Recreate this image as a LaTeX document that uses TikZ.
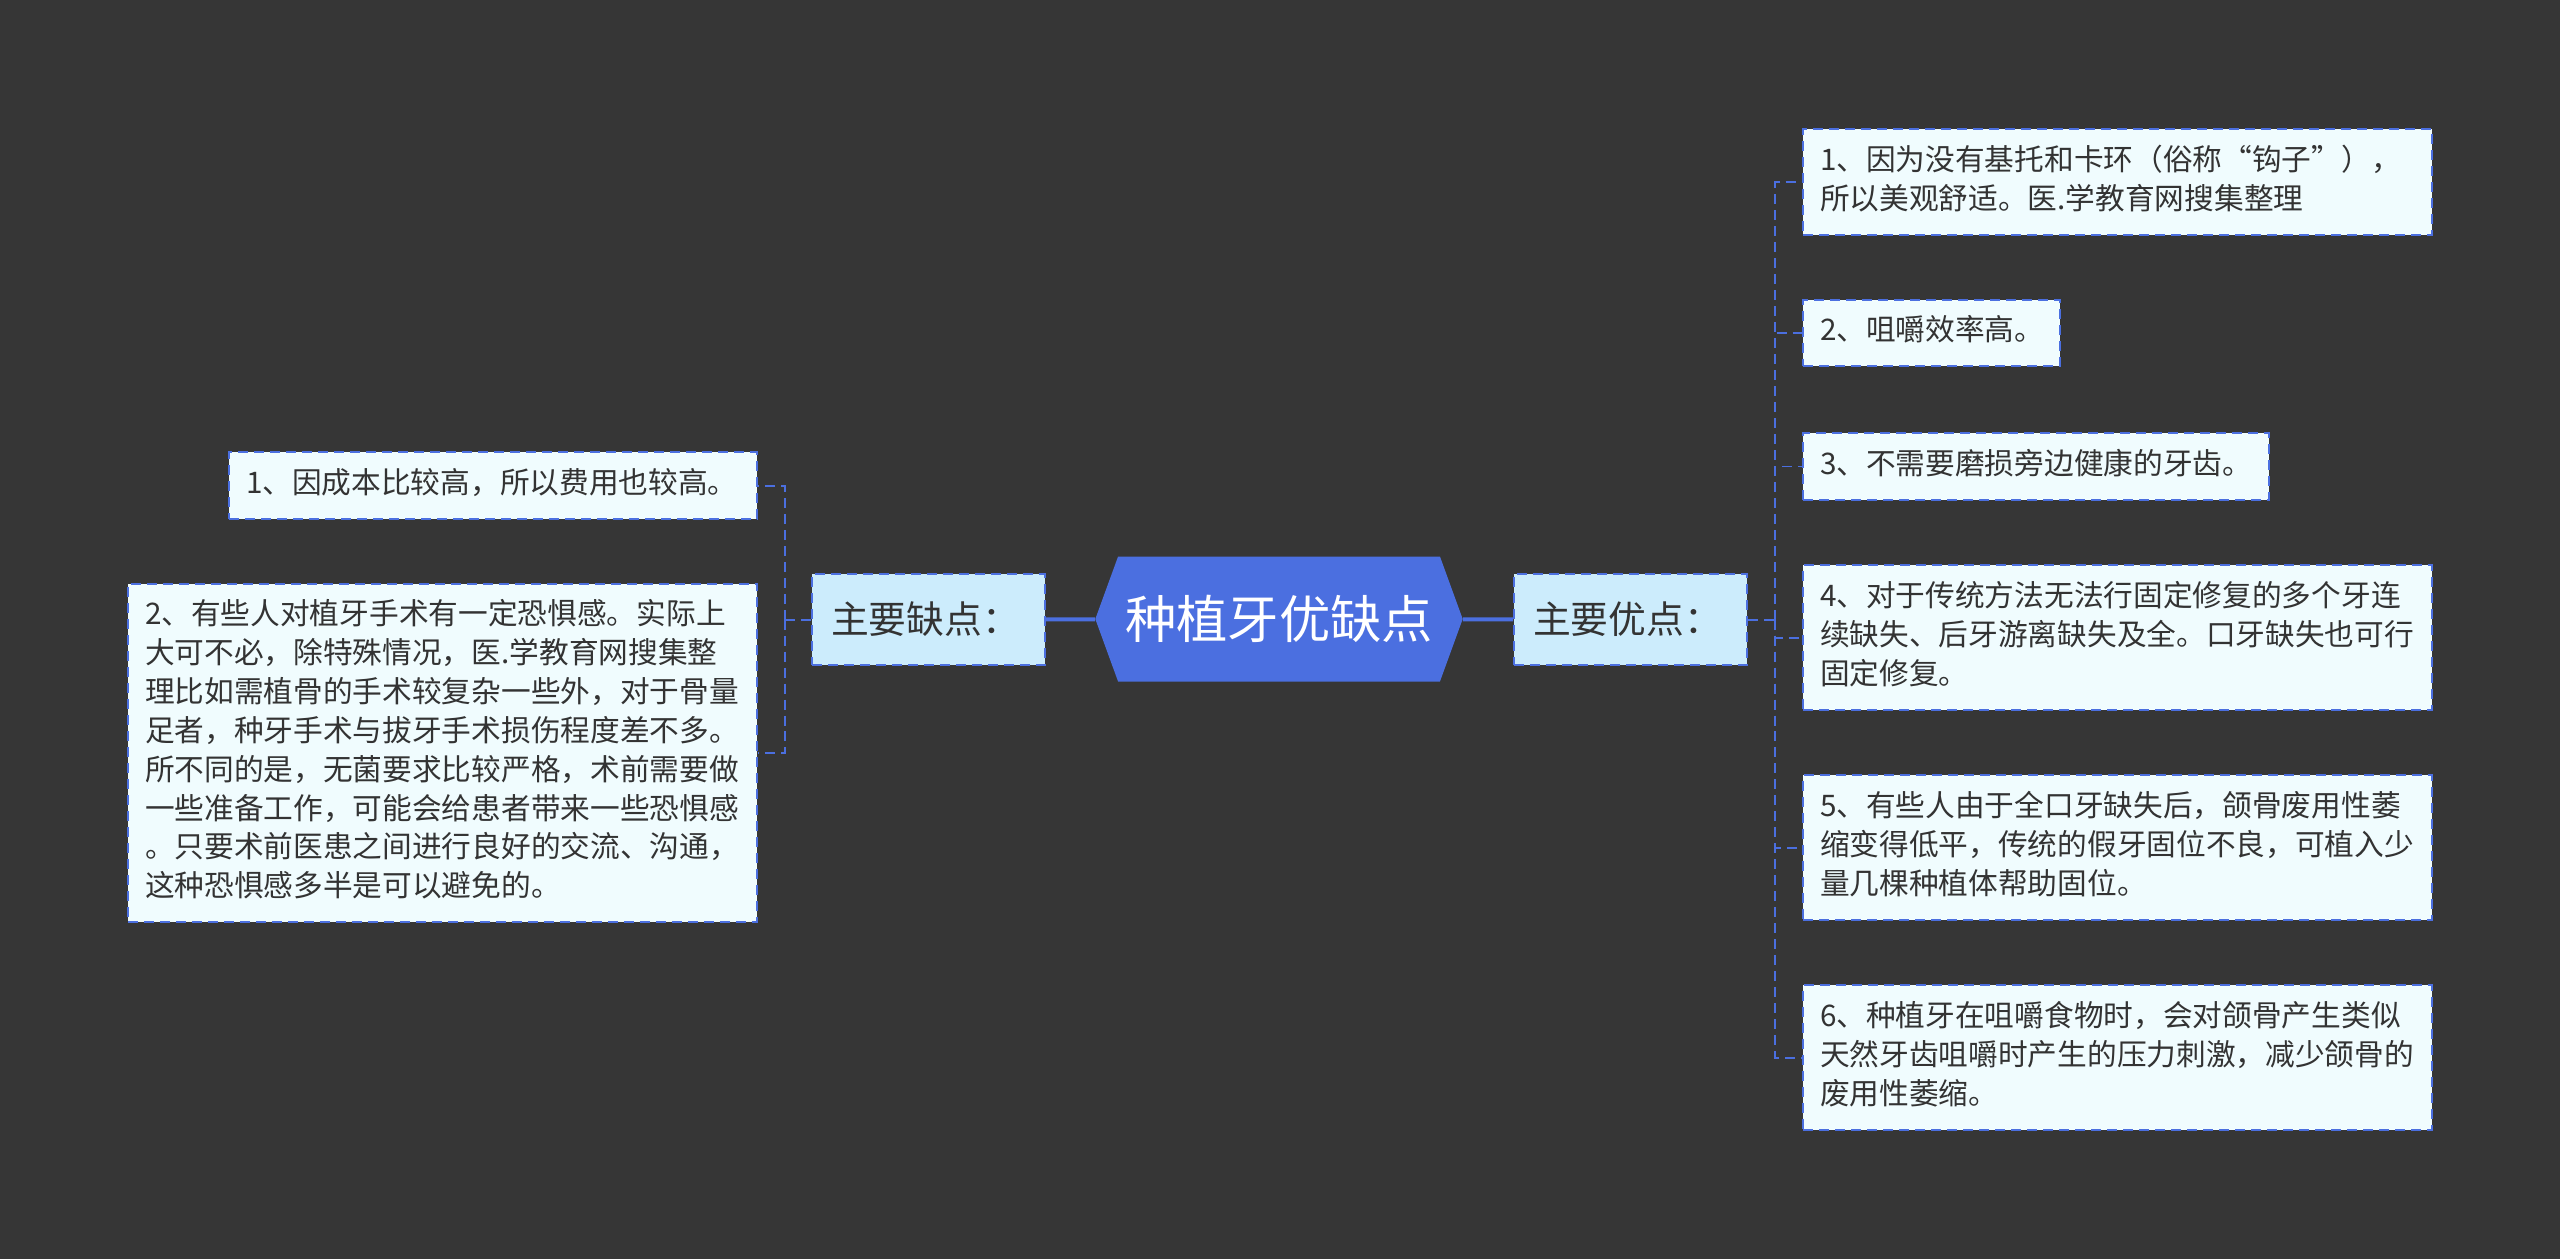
\documentclass[tikz,border=0pt]{standalone}
\usepackage{fontspec}
\setmainfont{Noto Sans CJK SC}
\usetikzlibrary{shapes.symbols}
\definecolor{bgdark}{RGB}{54,54,54}
\definecolor{mainblue}{RGB}{75,111,224}
\definecolor{subfill}{RGB}{204,236,252}
\definecolor{leaffill}{RGB}{240,252,254}
\definecolor{textdark}{RGB}{51,51,51}
\tikzset{
  root/.style={shape=signal,signal to=west and east,signal pointer angle=140,fill=mainblue,text=white,font=\fontsize{29.2}{34}\selectfont,inner xsep=0.14cm,inner ysep=0cm,minimum height=2.5cm},
  branch/.style={shape=rectangle,fill=subfill,draw=mainblue,dash pattern=on 0.2cm off 0.12cm,line width=0.04cm,text=textdark,font=\fontsize{21.5}{26}\selectfont,text width=3.9cm,align=left,inner xsep=0.38cm,minimum height=1.82cm},
  leaf/.style={shape=rectangle,fill=leaffill,draw=mainblue,dash pattern=on 0.2cm off 0.12cm,line width=0.04cm,text=textdark,font=\fontsize{16.9}{22.1}\selectfont,align=left,inner xsep=0.34cm,inner ysep=0.28cm,execute at begin node=\strut,execute at end node=\strut},
  trunk/.style={draw=mainblue,line width=0.08cm},
  twig/.style={draw=mainblue,dash pattern=on 0.2cm off 0.12cm,line width=0.04cm}
}
\begin{document}
\begin{tikzpicture}
\fill[bgdark] (0,0) rectangle (51.2,-25.18);
% centre and the two branches
\node[root](main) at (25.58,-12.38){种植牙优缺点};
\node[branch](cons) at (18.57,-12.39){主要缺点：};
\node[branch](pros) at (32.61,-12.39){主要优点：};
\draw[trunk] (main) -- (cons);
\draw[trunk] (main) -- (pros);
\coordinate (lbus) at (15.7,-12.39);
\coordinate (rbus) at (35.5,-12.39);
% cons
\node[leaf,text width=9.88cm,anchor=east](L1) at (15.16,-9.71){1、因成本比较高，所以费用也较高。};
\node[leaf,text width=11.9cm,anchor=east](L2) at (15.16,-15.06){2、有些人对植牙手术有一定恐惧感。实际上\\大可不必，除特殊情况，医.学教育网搜集整\\理比如需植骨的手术较复杂一些外，对于骨量\\足者，种牙手术与拔牙手术损伤程度差不多。\\所不同的是，无菌要求比较严格，术前需要做\\一些准备工作，可能会给患者带来一些恐惧感\\。只要术前医患之间进行良好的交流、沟通，\\这种恐惧感多半是可以避免的。};
\draw[twig] (cons.west) -- (lbus);
\foreach \n in {L1,L2} \draw[twig] (lbus) |- (\n);
% pros
\node[leaf,text width=11.9cm,anchor=west](R1) at (36.04,-3.64){1、因为没有基托和卡环（俗称“钩子”），\\所以美观舒适。医.学教育网搜集整理};
\node[leaf,text width=4.46cm,anchor=west](R2) at (36.04,-6.66){2、咀嚼效率高。};
\node[leaf,text width=8.64cm,anchor=west](R3) at (36.04,-9.33){3、不需要磨损旁边健康的牙齿。};
\node[leaf,text width=11.9cm,anchor=west](R4) at (36.04,-12.75){4、对于传统方法无法行固定修复的多个牙连\\续缺失、后牙游离缺失及全。口牙缺失也可行\\固定修复。};
\node[leaf,text width=11.9cm,anchor=west](R5) at (36.04,-16.95){5、有些人由于全口牙缺失后，颌骨废用性萎\\缩变得低平，传统的假牙固位不良，可植入少\\量几棵种植体帮助固位。};
\node[leaf,text width=11.9cm,anchor=west](R6) at (36.04,-21.15){6、种植牙在咀嚼食物时，会对颌骨产生类似\\天然牙齿咀嚼时产生的压力刺激，减少颌骨的\\废用性萎缩。};
\draw[twig] (pros.east) -- (rbus);
\foreach \n in {R1,R2,R3,R4,R5,R6} \draw[twig] (rbus) |- (\n);
\end{tikzpicture}
\end{document}
